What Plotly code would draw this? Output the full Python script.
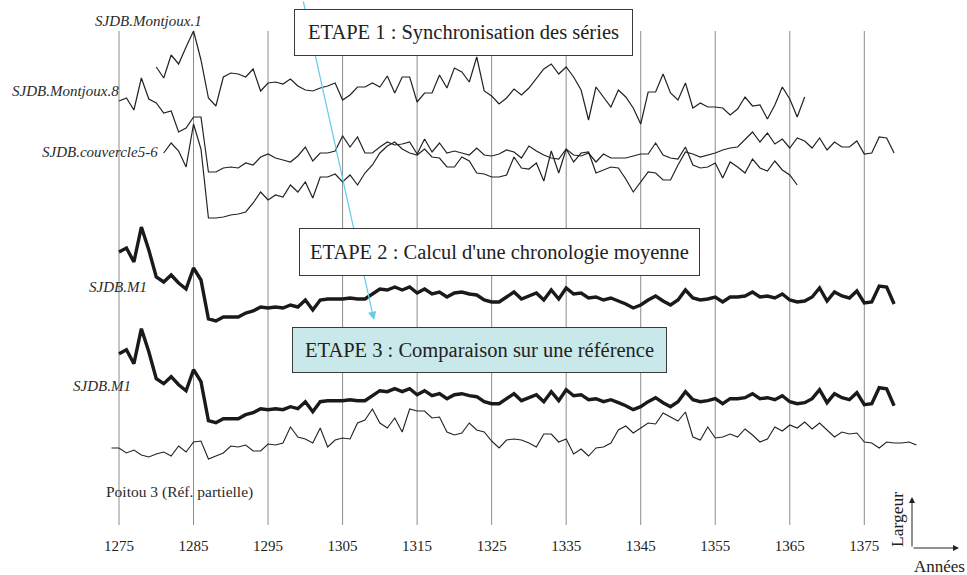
import plotly.graph_objects as go

W, H = 967, 575
SERIF = "Liberation Serif"
INK = "#222222"

# ---- ring-width indices, one value per year ----
montjoux1_start = 1280
montjoux1 = [123, 112, 135, 126, 143, 159, 130, 92, 84, 113,
             117, 116, 113, 121, 99, 107, 108, 106, 111, 104,
             100, 99, 102, 104, 107, 90, 95, 103, 103, 107,
             103, 114, 97, 113, 113, 88, 97, 97, 115, 102,
             122, 118, 108, 133, 99, 94, 86, 92, 101, 95,
             102, 111, 121, 126, 116, 123, 113, 100, 70, 103,
             93, 83, 100, 93, 82, 66, 98, 98, 116, 97,
             90, 107, 82, 87, 83, 83, 82, 75, 81, 93,
             84, 85, 71, 85, 103, 91, 73, 93]

montjoux8_start = 1275
montjoux8 = [149, 152, 140, 172, 151, 147, 137, 139, 118, 122,
             133, 133, 78, 78, 82, 83, 82, 87, 85, 93,
             96, 92, 90, 88, 94, 103, 89, 97, 97, 99,
             114, 103, 113, 97, 97, 103, 108, 105, 106, 108,
             96, 111, 98, 107, 97, 99, 97, 95, 102, 95,
             94, 96, 100, 98, 92, 104, 99, 95, 92, 91,
             101, 95, 94, 97, 88, 96, 92, 92, 92, 94,
             96, 96, 107, 95, 92, 91, 103, 85, 82, 83,
             87, 72, 88, 83, 77, 91, 82, 79, 89, 80,
             75, 65]

couvercle_start = 1281
couvercle = [117, 127, 119, 103, 146, 121, 52, 52, 53, 55,
             56, 58, 67, 78, 70, 75, 73, 85, 78, 88,
             72, 93, 93, 96, 88, 95, 85, 97, 105, 117,
             124, 128, 121, 117, 115, 121, 113, 112, 103, 103,
             113, 109, 97, 96, 93, 93, 95, 113, 102, 101,
             107, 89, 119, 97, 121, 108, 117, 118, 97, 100,
             103, 102, 91, 78, 88, 98, 97, 90, 90, 105,
             118, 116, 113, 115, 117, 120, 122, 123, 130, 138,
             128, 137, 126, 131, 122, 132, 129, 122, 132, 120,
             128, 123, 123, 129, 116, 117, 133, 132, 117]

m1_start = 1275
m1 = [148, 152, 138, 173, 150, 123, 118, 125, 117, 111,
      132, 120, 81, 79, 83, 83, 83, 87, 89, 93,
      92, 93, 92, 95, 93, 100, 90, 100, 101, 101,
      101, 102, 101, 101, 106, 111, 110, 113, 110, 113,
      107, 111, 106, 108, 103, 107, 108, 106, 105, 100,
      98, 98, 103, 108, 101, 104, 107, 100, 110, 101,
      112, 106, 107, 102, 103, 100, 102, 99, 96, 92,
      95, 100, 104, 99, 95, 100, 110, 102, 100, 101,
      103, 98, 103, 103, 104, 108, 103, 104, 102, 106,
      100, 98, 99, 103, 112, 99, 108, 104, 102, 109,
      97, 98, 114, 113, 96]

poitou_start = 1274
poitou = [92, 92, 87, 90, 85, 83, 86, 88, 84, 94,
          88, 98, 99, 81, 84, 87, 94, 93, 95, 89,
          89, 96, 95, 97, 113, 103, 101, 97, 112, 93,
          100, 102, 101, 117, 120, 131, 117, 112, 122, 108,
          131, 129, 129, 122, 123, 108, 105, 107, 117, 110,
          108, 99, 92, 100, 101, 100, 97, 93, 106, 106,
          98, 101, 86, 91, 84, 92, 93, 97, 110, 114,
          107, 112, 117, 116, 127, 123, 119, 128, 103, 100,
          113, 102, 103, 106, 103, 111, 105, 98, 101, 113,
          109, 115, 112, 118, 111, 117, 110, 103, 108, 106,
          107, 98, 97, 92, 98, 97, 97, 98, 95]

tick_years = list(range(1275, 1376, 10))

# ---- vertical stacking of the curves (offset added to each index) ----
offsets = {"montjoux1": 385, "montjoux8": 325, "couvercle": 305,
           "m1_top": 175, "m1_bottom": 73.3, "poitou": 35}


def years(start, values):
    return list(range(start, start + len(values)))


def curve(start, values, offset, width, color=INK):
    return go.Scatter(x=years(start, values), y=[v + offset for v in values],
                      mode="lines", line=dict(color=color, width=width),
                      hoverinfo="skip", showlegend=False)


fig = go.Figure()
fig.add_trace(curve(montjoux1_start, montjoux1, offsets["montjoux1"], 1.2))
fig.add_trace(curve(montjoux8_start, montjoux8, offsets["montjoux8"], 1.2))
fig.add_trace(curve(couvercle_start, couvercle, offsets["couvercle"], 1.2))
fig.add_trace(curve(m1_start, m1, offsets["m1_top"], 3.4, "#1a1a1a"))
fig.add_trace(curve(m1_start, m1, offsets["m1_bottom"], 3.4, "#1a1a1a"))
fig.add_trace(curve(poitou_start, poitou, offsets["poitou"], 1.1))

# x scale: 1275 sits at 119 px, 7.453 px per year
px_per_year = 7.453
x_lo = 1275 - 119 / px_per_year
x_hi = x_lo + W / px_per_year


def px(x):
    return x / W


def py(y):
    return 1 - y / H


# vertical year lines
for yr in tick_years:
    fig.add_shape(type="line", xref="x", yref="paper", x0=yr, x1=yr,
                  y0=py(525), y1=py(31), layer="below",
                  line=dict(color="#8c8c8c", width=1))

annotations = []

# pointer linking the three steps
annotations.append(dict(xref="paper", yref="paper", x=px(374), y=py(320),
                        ax=-71, ay=-326, text="", showarrow=True,
                        arrowhead=2, arrowsize=1.4, arrowwidth=1.2,
                        arrowcolor="#67cbe8", standoff=0))


def step_box(text, x0, y0, x1, y1, fill):
    return dict(xref="paper", yref="paper", x=px((x0 + x1) / 2), y=py((y0 + y1) / 2),
                xanchor="center", yanchor="middle", showarrow=False,
                text=text, width=x1 - x0 - 2, height=y1 - y0 - 2,
                borderpad=0, borderwidth=1, bordercolor="#3a3a3a", bgcolor=fill,
                align="center", valign="middle",
                font=dict(family=SERIF, size=20.5, color=INK))


annotations.append(step_box("ETAPE 1 : Synchronisation des séries", 294, 9, 633, 56, "white"))
annotations.append(step_box("ETAPE 2 : Calcul d'une chronologie moyenne", 299, 228, 700, 276, "white"))
annotations.append(step_box("ETAPE 3 : Comparaison sur une référence", 292, 327, 667, 373, "#c9e8ea"))


def label(text, left, yc, size=15, italic=True):
    return dict(xref="paper", yref="paper", x=px(left - 2), y=py(yc),
                xanchor="left", yanchor="middle", showarrow=False,
                text=f"<i>{text}</i>" if italic else text,
                font=dict(family=SERIF, size=size, color="#2a2a2a"))


annotations += [
    label("SJDB.Montjoux.1", 95, 21),
    label("SJDB.Montjoux.8", 12, 91),
    label("SJDB.couvercle5-6", 42, 152),
    label("SJDB.M1", 89, 287),
    label("SJDB.M1", 73, 386),
    label("Poitou 3 (Réf. partielle)", 106, 492, size=15.5, italic=False),
]

# small orientation key: Largeur (up) / Années (right)
annotations.append(dict(xref="paper", yref="paper", x=px(912), y=py(497),
                        ax=0, ay=51, text="", showarrow=True, arrowhead=2,
                        arrowsize=1.2, arrowwidth=1, arrowcolor=INK, standoff=0))
annotations.append(dict(xref="paper", yref="paper", x=px(959), y=py(548),
                        ax=-47, ay=0, text="", showarrow=True, arrowhead=2,
                        arrowsize=1.2, arrowwidth=1, arrowcolor=INK, standoff=0))
annotations.append(dict(xref="paper", yref="paper", x=px(897), y=py(520),
                        xanchor="center", yanchor="middle", showarrow=False,
                        text="Largeur", textangle=-90,
                        font=dict(family=SERIF, size=17.5, color=INK)))
annotations.append(dict(xref="paper", yref="paper", x=px(939), y=py(566),
                        xanchor="center", yanchor="middle", showarrow=False,
                        text="Années", font=dict(family=SERIF, size=17, color=INK)))

fig.update_layout(
    width=W, height=H,
    margin=dict(l=0, r=0, t=0, b=0),
    paper_bgcolor="white", plot_bgcolor="white",
    showlegend=False,
    annotations=annotations,
    xaxis=dict(range=[x_lo, x_hi], tickvals=tick_years,
               ticktext=[str(t) for t in tick_years],
               showgrid=False, zeroline=False, showline=False, ticks="",
               anchor="free", position=py(535),
               tickfont=dict(family=SERIF, size=15, color=INK)),
    yaxis=dict(range=[0, H], visible=False, showgrid=False, zeroline=False),
)

fig.write_html("out.html")
